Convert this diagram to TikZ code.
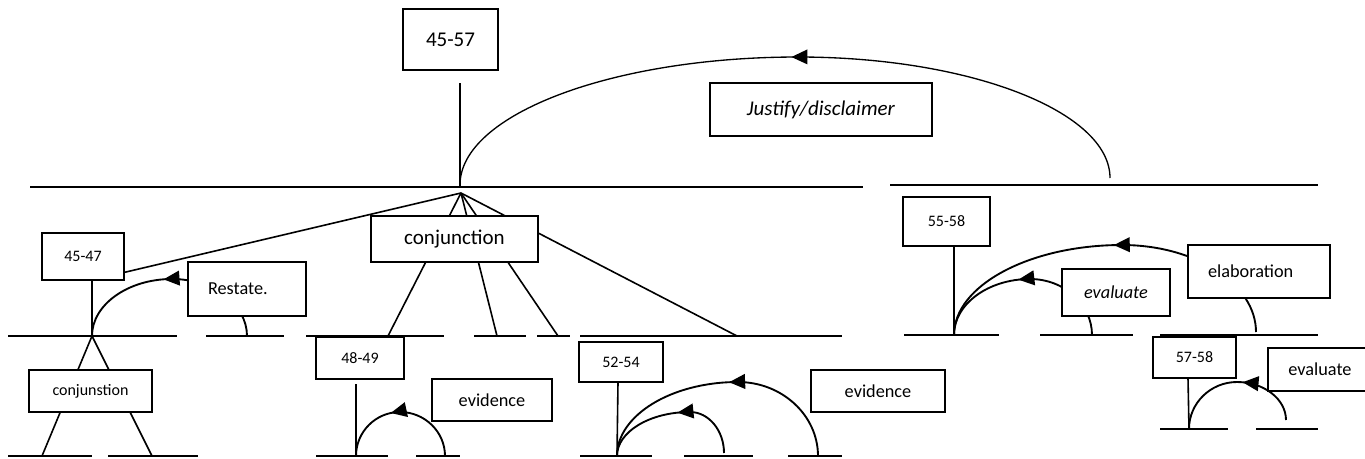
\documentclass[tikz,border=0pt]{standalone}
\usepackage{fontspec}
\setmainfont{Carlito}
\usetikzlibrary{arrows.meta,decorations.markings,calc}
\pgfdeclarelayer{bg}
\pgfsetlayers{bg,main}
\tikzset{
  box/.style={draw, fill=white, line width=1.4pt, inner sep=0pt, outer sep=0pt, anchor=center},
  big/.style={font=\fontsize{15.75}{18}\selectfont},
  med/.style={font=\fontsize{13.7}{16}\selectfont},
  sml/.style={font=\fontsize{12}{14}\selectfont},
  seg/.style={line width=1.4pt},
  lnk/.style={line width=1.2pt},
  relarc/.style={line width=1.4pt, postaction={decorate},
    decoration={markings, mark=at position #1 with {\arrow{Triangle[length=12pt,width=11pt]}}}},
}
\begin{document}
\begin{tikzpicture}[x=0.75pt,y=-0.75pt]
\useasboundingbox (0,0) rectangle (1365,458);

% ---------- boxes ----------
\node[box,big,minimum width=71.25pt,minimum height=45.75pt] (n4557) at (450.5,39.5) {45-57};
\node[box,big,minimum width=166.5pt,minimum height=39.75pt] (njust) at (821,109.5) {\textit{Justify/disclaimer}};
\node[box,big,minimum width=125.25pt,minimum height=34.5pt] (nconj) at (454.5,239) {conjunction};
\node[box,sml,minimum width=61.5pt,minimum height=35.25pt] (n4547) at (83,256.5) {45-47};
\node[box,med,align=left,text width=58.5pt,minimum width=88.5pt,minimum height=40.5pt] (nrest) at (247,289) {Restate.};
\node[box,sml,minimum width=92.25pt,minimum height=31.5pt] (nconjs) at (90.5,391) {conjunstion};
\node[box,sml,minimum width=66pt,minimum height=31.5pt] (n4849) at (360,358) {48-49};
\node[box,med,minimum width=90pt,minimum height=31.5pt] (nev1) at (492,400) {evidence};
\node[box,sml,minimum width=63pt,minimum height=30pt] (n5254) at (621,362) {52-54};
\node[box,med,minimum width=100.5pt,minimum height=31.5pt] (nev2) at (878,391) {evidence};
\node[box,sml,minimum width=65.25pt,minimum height=36.75pt] (n5558) at (946.5,221.5) {55-58};
\node[box,med,minimum width=81pt,minimum height=35.25pt] (neval1) at (1116,292.5) {\textit{evaluate}};
\node[box,med,align=left,text width=76.5pt,minimum width=106.5pt,minimum height=39.75pt] (nelab) at (1259,271.5) {elaboration};
\node[box,sml,minimum width=62.25pt,minimum height=30.75pt] (n5758) at (1194.5,357.5) {57-58};
\node[box,med,minimum width=78pt,minimum height=32.25pt] (neval2) at (1320,369.5) {evaluate};

% ---------- coordinates ----------
\coordinate (v4557a) at (460,83);
\coordinate (v4557b) at (460,187);
\coordinate (apex) at (461,193);
\coordinate (p4547) at (92,280);
\coordinate (q4547) at (92,336);
\coordinate (c1) at (388,336);
\coordinate (c2) at (497,336);
\coordinate (c3) at (558,336);
\coordinate (c4) at (737,336);
\coordinate (k1) at (42,456);
\coordinate (k2) at (152,456);
\coordinate (v4849a) at (356,384);
\coordinate (v4849b) at (356,456);
\coordinate (v5254a) at (618,382);
\coordinate (v5254b) at (617,456);
\coordinate (v5558a) at (954,246);
\coordinate (v5558b) at (954,335);
\coordinate (v5758a) at (1188,378);
\coordinate (v5758b) at (1189,429);
% arcs
\coordinate (jR) at (1110,178); \coordinate (jT) at (798,57);  \coordinate (jL) at (460,185);
\coordinate (rR) at (247,336);  \coordinate (rT) at (172,279); \coordinate (rL) at (92,336);
\coordinate (eR) at (445,456);  \coordinate (eT) at (400,412); \coordinate (eL) at (356,456);
\coordinate (sR) at (724,453);  \coordinate (sT) at (690,412); \coordinate (sL) at (617,456);
\coordinate (bR) at (818,456);  \coordinate (bT) at (738,382); \coordinate (bL) at (617,456);
\coordinate (fR) at (1092,335); \coordinate (fT) at (1030,279); \coordinate (fL) at (954,335);
\coordinate (gR) at (1256,332); \coordinate (gT) at (1122,245); \coordinate (gL) at (954,335);
\coordinate (hR) at (1286,420); \coordinate (hT) at (1237,382); \coordinate (hL) at (1189,429);

\begin{pgfonlayer}{bg}
% ---------- text-span lines ----------
\draw[seg] (30,187) -- (863,187);
\draw[seg] (890,185) -- (1318,185);
\draw[seg] (8,336) -- (177,336);
\draw[seg] (206,336) -- (284,336);
\draw[seg] (306,336) -- (444,336);
\draw[seg] (474,336) -- (526,336);
\draw[seg] (537,336) -- (570,336);
\draw[seg] (580,336) -- (842,336);
\draw[seg] (904,335) -- (999,335);
\draw[seg] (1040,335) -- (1133,335);
\draw[seg] (1160,335) -- (1318,335);
\draw[seg] (8,456) -- (92,456);
\draw[seg] (108,456) -- (198,456);
\draw[seg] (316,456) -- (388,456);
\draw[seg] (416,456) -- (460,456);
\draw[seg] (580,456) -- (652,456);
\draw[seg] (684,456) -- (753,456);
\draw[seg] (788,456) -- (842,456);
\draw[seg] (1160,429) -- (1228,429);
\draw[seg] (1256,429) -- (1318,429);

% ---------- straight links ----------
\draw[line width=1pt] (v4557a) -- (v4557b);
\draw[lnk] (apex) -- (p4547);
\draw[lnk] (apex) -- (c1);
\draw[lnk] (apex) -- (c2);
\draw[lnk] (apex) -- (c3);
\draw[lnk] (apex) -- (c4);
\draw[lnk] (p4547) -- (q4547);
\draw[lnk] (q4547) -- (k1);
\draw[lnk] (q4547) -- (k2);
\draw[lnk] (v4849a) -- (v4849b);
\draw[lnk] (v5254a) -- (v5254b);
\draw[lnk] (v5558a) -- (v5558b);
\draw[lnk] (v5758a) -- (v5758b);

% ---------- relation arcs ----------
\draw[relarc=0.49, line width=1pt] (jR) .. controls ($(jR)!0.55!(jR|-jT)$) and ($(jT)!0.55!(jT-|jR)$) .. (jT)
  .. controls ($(jT)!0.55!(jT-|jL)$) and ($(jL)!0.55!(jL|-jT)$) .. (jL);
\draw[relarc=0.53] (rR) .. controls ($(rR)!0.55!(rR|-rT)$) and ($(rT)!0.55!(rT-|rR)$) .. (rT)
  .. controls ($(rT)!0.55!(rT-|rL)$) and ($(rL)!0.55!(rL|-rT)$) .. (rL);
\draw[relarc=0.57] (eR) .. controls ($(eR)!0.55!(eR|-eT)$) and ($(eT)!0.55!(eT-|eR)$) .. (eT)
  .. controls ($(eT)!0.55!(eT-|eL)$) and ($(eL)!0.55!(eL|-eT)$) .. (eL);
\draw[relarc=0.47] (sR) .. controls ($(sR)!0.55!(sR|-sT)$) and ($(sT)!0.55!(sT-|sR)$) .. (sT)
  .. controls ($(sT)!0.55!(sT-|sL)$) and ($(sL)!0.55!(sL|-sT)$) .. (sL);
\draw[relarc=0.47] (bR) .. controls ($(bR)!0.55!(bR|-bT)$) and ($(bT)!0.55!(bT-|bR)$) .. (bT)
  .. controls ($(bT)!0.55!(bT-|bL)$) and ($(bL)!0.55!(bL|-bT)$) .. (bL);
\draw[relarc=0.53] (fR) .. controls ($(fR)!0.55!(fR|-fT)$) and ($(fT)!0.55!(fT-|fR)$) .. (fT)
  .. controls ($(fT)!0.55!(fT-|fL)$) and ($(fL)!0.55!(fL|-fT)$) .. (fL);
\draw[relarc=0.48] (gR) .. controls ($(gR)!0.55!(gR|-gT)$) and ($(gT)!0.55!(gT-|gR)$) .. (gT)
  .. controls ($(gT)!0.55!(gT-|gL)$) and ($(gL)!0.55!(gL|-gT)$) .. (gL);
\draw[relarc=0.44] (hR) .. controls ($(hR)!0.55!(hR|-hT)$) and ($(hT)!0.55!(hT-|hR)$) .. (hT)
  .. controls ($(hT)!0.55!(hT-|hL)$) and ($(hL)!0.55!(hL|-hT)$) .. (hL);
\end{pgfonlayer}
\end{tikzpicture}
\end{document}
